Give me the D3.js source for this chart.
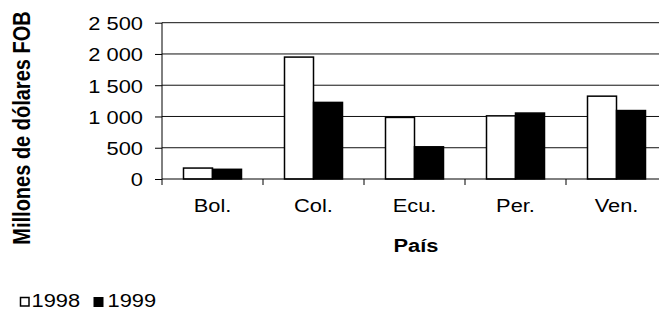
<!DOCTYPE html>
<html lang="es">
<head>
<meta charset="UTF-8">
<title>Exportaciones por país</title>
<script src="https://d3js.org/d3.v7.min.js"></script>
<style>
    body { margin: 0; background: #fff; }
    svg { display: block; font-family: "Liberation Sans", Arial, sans-serif; }
</style>
</head>
<body>
<svg id="chart" width="659" height="311"></svg>
<script>
// data
const paises = ["Bol.", "Col.", "Ecu.", "Per.", "Ven."];
const anios = ["1998", "1999"];
const valores1998 = [175, 1950, 985, 1010, 1325];
const valores1999 = [155, 1225, 515, 1055, 1095];
const yTicks = [0, 500, 1000, 1500, 2000, 2500];
const yTickLabels = ["0", "500", "1 000", "1 500", "2 000", "2 500"];

const svg = d3.select("#chart");
const sx = 1.15; // text in the source looks a bit wide

// plot area
const pLeft = 162, pRight = 667, pTop = 22.7, pBottom = 179;

const x = d3.scaleBand().domain(paises).range([pLeft, pRight]).padding(0);
const xSub = d3.scaleBand().domain(anios).range([0, 58]);
const y = d3.scaleLinear().domain([0, 2500]).range([pBottom, pTop]);
const fill = d3.scaleOrdinal().domain(anios).range(["#fff", "#000"]);

// gridlines
svg.append("g")
    .selectAll("line")
    .data(yTicks.filter(d => d > 0))
    .join("line")
    .attr("x1", pLeft).attr("x2", pRight)
    .attr("y1", d => y(d)).attr("y2", d => y(d))
    .attr("stroke", "#111").attr("stroke-width", 1);

// bars
const rows = paises.map((p, i) => ({ pais: p, vals: [valores1998[i], valores1999[i]] }));
const grupos = svg.append("g")
    .selectAll("g")
    .data(rows)
    .join("g")
    .attr("transform", d => `translate(${x(d.pais) + x.bandwidth() / 2 - 29},0)`);

grupos.selectAll("rect")
    .data(d => d.vals.map((v, j) => ({ anio: anios[j], v })))
    .join("rect")
    .attr("x", d => xSub(d.anio))
    .attr("width", xSub.bandwidth())
    .attr("y", d => y(d.v))
    .attr("height", d => pBottom - y(d.v))
    .attr("fill", d => fill(d.anio))
    .attr("stroke", "#000")
    .attr("stroke-width", 1.5);

// y axis
const yAxis = svg.append("g").attr("transform", `translate(${pLeft},0)`)
    .call(d3.axisLeft(y).tickValues(yTicks).tickSize(7).tickFormat((d, i) => yTickLabels[i]));
yAxis.select(".domain").attr("stroke", "#000").attr("d", `M0,${pTop}V${pBottom}`);
yAxis.selectAll(".tick line").attr("stroke", "#000");
yAxis.selectAll(".tick text")
    .attr("x", 0).attr("dy", null)
    .attr("dominant-baseline", "central")
    .attr("text-anchor", "end")
    .attr("font-size", 19)
    .attr("fill", "#000")
    .attr("font-family", "Liberation Sans, Arial, sans-serif")
    .attr("transform", `translate(-19,0) scale(${sx},1)`);

// x axis
const xAxis = svg.append("g").attr("transform", `translate(0,${pBottom})`);
xAxis.append("line")
    .attr("x1", pLeft).attr("x2", pRight)
    .attr("stroke", "#000");
xAxis.selectAll(".xt")
    .data(paises.concat(["fin"]))
    .join("line")
    .attr("class", "xt")
    .attr("x1", (d, i) => pLeft + i * x.bandwidth())
    .attr("x2", (d, i) => pLeft + i * x.bandwidth())
    .attr("y1", 0).attr("y2", 6)
    .attr("stroke", "#000");
svg.append("g")
    .selectAll("text")
    .data(paises)
    .join("text")
    .attr("transform", d => `translate(${x(d) + x.bandwidth() / 2},211.5) scale(${sx},1)`)
    .attr("text-anchor", "middle")
    .attr("font-size", 19)
    .text(d => d);

// axis titles
svg.append("text")
    .attr("transform", `translate(416,251.5) scale(${sx},1)`)
    .attr("text-anchor", "middle")
    .attr("font-size", 19)
    .attr("font-weight", "bold")
    .text("País");

svg.append("text")
    .attr("transform", `translate(30,128) scale(${sx},1) rotate(-90)`)
    .attr("text-anchor", "middle")
    .attr("font-size", 20)
    .attr("font-weight", "bold")
    .text("Millones de dólares FOB");

// legend
const leyenda = svg.append("g");
const legX = [20.5, 93.5];
const item = leyenda.selectAll("g")
    .data(anios)
    .join("g")
    .attr("transform", (d, i) => `translate(${legX[i]},297)`);
item.append("rect")
    .attr("width", d => d === "1998" ? 8.5 : 10)
    .attr("height", d => d === "1998" ? 8.5 : 10)
    .attr("y", d => d === "1998" ? 0.5 : 0)
    .attr("fill", d => fill(d))
    .attr("stroke", "#000")
    .attr("stroke-width", d => d === "1998" ? 1.5 : 0);
item.append("text")
    .attr("transform", (d, i) => `translate(${i === 0 ? 11 : 14},10) scale(${sx},1)`)
    .attr("font-size", 19)
    .text(d => d);
</script>
</body>
</html>
